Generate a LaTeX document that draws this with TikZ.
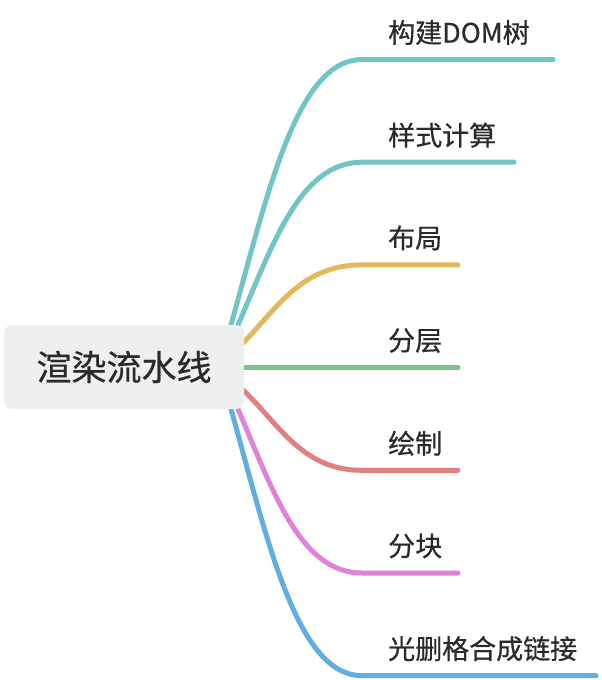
\documentclass[tikz,border=0pt]{standalone}
\usepackage{fontspec}
\newfontfamily\cjk[FakeBold=0.6]{Noto Sans CJK SC}
\definecolor{cteal}{HTML}{72C5C5}
\definecolor{cyellow}{HTML}{E0B95A}
\definecolor{cgreen}{HTML}{7BC47F}
\definecolor{cred}{HTML}{E08080}
\definecolor{cpink}{HTML}{E083D8}
\definecolor{cblue}{HTML}{62AEE0}
\definecolor{boxfill}{HTML}{EEEFEF}
\definecolor{txt}{HTML}{2A2A2A}
\begin{document}
\begin{tikzpicture}[x=1pt,y=-1pt,
  branch/.style={line width=5pt,line cap=round},
  lbl/.style={anchor=west,inner sep=0pt,text=txt,font=\cjk\fontsize{27}{31}\selectfont}]
\useasboundingbox (0,0) rectangle (602,680);
% coordinates
\coordinate (s1) at (231,325); \coordinate (e1) at (362,59.5); \coordinate (f1) at (553,59.5);
\coordinate (s2) at (238,325); \coordinate (e2) at (362,162.2); \coordinate (f2) at (514,162.2);
\coordinate (s3) at (243,343); \coordinate (e3) at (362,264.9); \coordinate (f3) at (458,264.9);
\coordinate (s4) at (243,367.6); \coordinate (f4) at (458,367.6);
\coordinate (s5) at (243,390); \coordinate (e5) at (362,470.3); \coordinate (f5) at (458,470.3);
\coordinate (s6) at (238,409); \coordinate (e6) at (362,573); \coordinate (f6) at (458,573);
\coordinate (s7) at (231,409); \coordinate (e7) at (362,675.7); \coordinate (f7) at (596,675.7);
% branches
\draw[branch,cteal] (s1) .. controls (268,192) and (297,59.5) .. (e1) -- (f1);
\draw[branch,cteal] (s2) .. controls (273,244) and (300,162.2) .. (e2) -- (f2);
\draw[branch,cyellow] (s3) .. controls (278,307) and (302,264.9) .. (e3) -- (f3);
\draw[branch,cgreen] (s4) -- (f4);
\draw[branch,cred] (s5) .. controls (280,425) and (302,470.3) .. (e5) -- (f5);
\draw[branch,cpink] (s6) .. controls (273,491) and (300,573) .. (e6) -- (f6);
\draw[branch,cblue] (s7) .. controls (268,542) and (297,675.7) .. (e7) -- (f7);
% central node
\node[draw=none,fill=boxfill,rounded corners=8pt,minimum width=240pt,minimum height=84pt,inner sep=0pt,
  text=txt,font=\cjk\fontsize{35}{40}\selectfont] (root) at (124,367) {渲染流水线};
% labels
\node[lbl] (l1) at (388,32.5) {构建DOM树};
\node[lbl] (l2) at (388,135.2) {样式计算};
\node[lbl] (l3) at (388,237.9) {布局};
\node[lbl] (l4) at (388,340.6) {分层};
\node[lbl] (l5) at (388,443.3) {绘制};
\node[lbl] (l6) at (388,546) {分块};
\node[lbl] (l7) at (388,648.7) {光删格合成链接};
\end{tikzpicture}
\end{document}
